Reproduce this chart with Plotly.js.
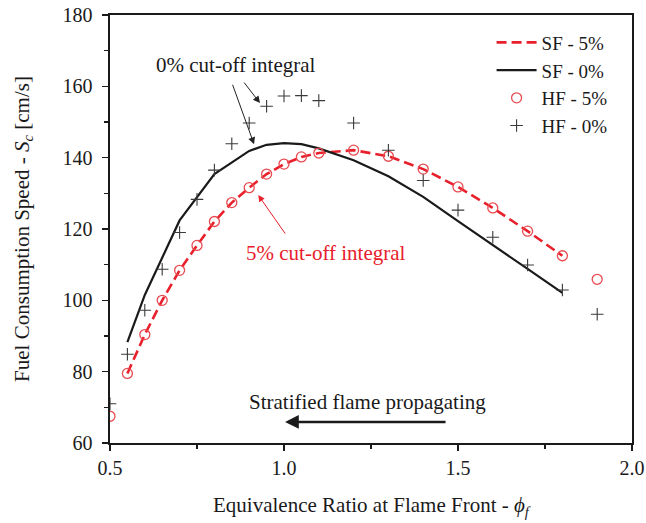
<!DOCTYPE html>
<html>
<head>
<meta charset="utf-8">
<script src="https://cdn.plot.ly/plotly-3.0.1.min.js"></script>
<style>
  html, body { margin: 0; padding: 0; background: #fff; }
  #chart { width: 646px; height: 523px; }
</style>
</head>
<body>
<div id="chart"></div>
<script>
// Equivalence ratio at the flame front for the highly-resolved flame (HF) samples
const phiHF = [0.5, 0.55, 0.6, 0.65, 0.7, 0.75, 0.8, 0.85, 0.9, 0.95, 1.0, 1.05, 1.1,
               1.2, 1.3, 1.4, 1.5, 1.6, 1.7, 1.8, 1.9];
// Fuel consumption speed [cm/s], 5% cut-off integral
const hf5 = [67.5, 79.5, 90.4, 100.0, 108.4, 115.4, 122.1, 127.4, 131.6, 135.4, 138.2, 140.2, 141.3,
             142.1, 140.4, 136.8, 131.8, 125.9, 119.4, 112.5, 105.9];
// Fuel consumption speed [cm/s], 0% cut-off integral
const hf0 = [71.0, 84.9, 97.2, 108.7, 119.0, 128.3, 136.5, 143.9, 149.7, 154.4, 157.3, 157.4, 156.0,
             149.7, 142.1, 133.6, 125.3, 117.7, 109.9, 102.9, 96.1];

// Stratified flame (SF) curves
const phiSF5 = [0.55, 0.6, 0.65, 0.7, 0.75, 0.8, 0.85, 0.9, 0.95, 1.0, 1.05, 1.1,
                1.2, 1.3, 1.4, 1.5, 1.6, 1.7, 1.8];
const sf5 = [79.5, 90.4, 100.0, 108.4, 115.4, 122.1, 127.4, 131.6, 135.4, 138.2, 140.2, 141.3,
             142.1, 140.4, 136.8, 131.8, 125.9, 119.4, 112.5];
const phiSF0 = [0.55, 0.6, 0.7, 0.8, 0.9, 0.95, 1.0, 1.05, 1.1,
                1.2, 1.3, 1.4, 1.5, 1.6, 1.7, 1.8];
const sf0 = [88.3, 101.5, 122.4, 135.4, 141.9, 143.6, 144.1, 143.8, 142.6,
             139.3, 134.8, 129.0, 122.2, 115.4, 108.8, 102.1];

const seriesNames = ['SF - 5%', 'SF - 0%', 'HF - 5%', 'HF - 0%'];

const FONT = 'Liberation Serif, Times New Roman, serif';
const RED = '#e8202b';
const RED_MARK = '#e84a50';
const INK = '#1a1a1a';

const traces = [
  {
    x: phiSF5, y: sf5, name: seriesNames[0], type: 'scatter', mode: 'lines',
    line: { color: RED, width: 2.6, dash: '10px,5px' }
  },
  {
    x: phiSF0, y: sf0, name: seriesNames[1], type: 'scatter', mode: 'lines',
    line: { color: INK, width: 2.2 }
  },
  {
    x: phiHF, y: hf5, name: seriesNames[2], type: 'scatter', mode: 'markers',
    marker: { symbol: 'circle-open', size: 10, color: RED_MARK, line: { width: 1.3, color: RED_MARK } }
  },
  {
    x: phiHF, y: hf0, name: seriesNames[3], type: 'scatter', mode: 'markers',
    marker: { symbol: 'cross-thin-open', size: 9, color: '#3a3a3a', line: { width: 1.1, color: '#3a3a3a' } }
  }
];

const annotations = [
  // labels
  { x: 0.861, y: 165.9, xref: 'x', yref: 'y', text: '0% cut-off integral', showarrow: false,
    font: { family: FONT, size: 21, color: INK } },
  { x: 1.121, y: 113.2, xref: 'x', yref: 'y', text: '5% cut-off integral', showarrow: false,
    font: { family: FONT, size: 21, color: RED } },
  { x: 1.24, y: 71.5, xref: 'x', yref: 'y', text: 'Stratified flame propagating', showarrow: false,
    font: { family: FONT, size: 21, color: INK } },
  // pointers
  { x: 0.914, y: 143.75, xref: 'x', yref: 'y', ax: -22, ay: -61, text: '', showarrow: true,
    arrowhead: 2, arrowsize: 1.4, arrowwidth: 1, arrowcolor: '#222' },
  { x: 0.931, y: 155.3, xref: 'x', yref: 'y', ax: -17, ay: -22, text: '', showarrow: true,
    arrowhead: 2, arrowsize: 1.4, arrowwidth: 1, arrowcolor: '#222' },
  { x: 0.926, y: 129.5, xref: 'x', yref: 'y', ax: 28, ay: 40, text: '', showarrow: true,
    arrowhead: 2, arrowsize: 1.3, arrowwidth: 1, arrowcolor: RED },
  { x: 1.003, y: 65.9, xref: 'x', yref: 'y', ax: 162, ay: 0, text: '', showarrow: true,
    arrowhead: 2, arrowsize: 1.1, arrowwidth: 2.5, arrowcolor: INK }
];

const layout = {
  width: 646, height: 523,
  margin: { l: 110, r: 14, t: 15, b: 80 },
  paper_bgcolor: '#fff', plot_bgcolor: '#fff',
  font: { family: FONT, color: INK, size: 20 },
  showlegend: true,
  legend: {
    x: 0.731, y: 0.98, xanchor: 'left', yanchor: 'top',
    bgcolor: 'rgba(0,0,0,0)', itemwidth: 40, tracegroupgap: 0,
    font: { family: FONT, size: 19, color: INK }
  },
  xaxis: {
    range: [0.5, 2.0], dtick: 0.5, tick0: 0.5, tickformat: '.1f',
    showgrid: false, zeroline: false,
    showline: true, mirror: true, linecolor: INK, linewidth: 1.6,
    ticks: 'outside', ticklen: 6, tickwidth: 1.4, tickcolor: INK,
    minor: { dtick: 0.25, ticks: 'outside', ticklen: 4, tickwidth: 1.2, tickcolor: INK },
    tickfont: { family: FONT, size: 20, color: INK },
    title: { text: 'Equivalence Ratio at Flame Front - <i>ϕ</i><sub><i>f</i></sub>', standoff: 20,
             font: { family: FONT, size: 21, color: INK } }
  },
  yaxis: {
    range: [60, 180], dtick: 20, tick0: 60,
    showgrid: false, zeroline: false,
    showline: true, mirror: true, linecolor: INK, linewidth: 1.6,
    ticks: 'outside', ticklen: 6, tickwidth: 1.4, tickcolor: INK,
    minor: { dtick: 10, ticks: 'outside', ticklen: 4, tickwidth: 1.2, tickcolor: INK },
    tickfont: { family: FONT, size: 20, color: INK },
    ticklabelstandoff: 6,
    title: { text: 'Fuel Consumption Speed - <i>S</i><sub><i>c</i></sub> [cm/s]', standoff: 27,
             font: { family: FONT, size: 21, color: INK } }
  },
  annotations: annotations
};

Plotly.newPlot('chart', traces, layout, { displayModeBar: false, staticPlot: true });
</script>
</body>
</html>
